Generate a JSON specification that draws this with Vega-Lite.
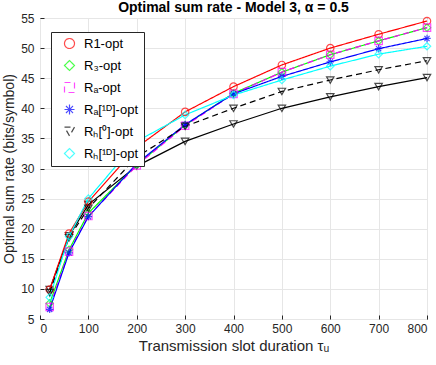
{
  "$schema": "https://vega.github.io/schema/vega-lite/v6.json",
  "width": 387,
  "height": 301,
  "autosize": {"type": "none"},
  "padding": {"left": 40, "top": 18, "right": 9, "bottom": 46},
  "background": "white",
  "config": {
    "font": "Liberation Sans",
    "view": {"stroke": "#262626", "strokeWidth": 1},
    "axis": {
      "gridColor": "#e6e6e6",
      "gridWidth": 1,
      "domain": false,
      "tickColor": "#262626",
      "tickSize": -4,
      "labelColor": "#262626",
      "labelFontSize": 12,
      "titleColor": "#262626",
      "titleFontSize": 15,
      "titleFontWeight": "normal",
      "labelFont": "Liberation Sans",
      "titleFont": "Liberation Sans"
    },
    "legend": {
      "strokeColor": "#262626",
      "fillColor": "white",
      "padding": 5,
      "labelFontSize": 13,
      "labelColor": "#000000",
      "labelFont": "Liberation Sans",
      "rowPadding": 7,
      "symbolOffset": 7,
      "labelOffset": 8,
      "symbolStrokeWidth": 1.2
    }
  },
  "title": {
    "text": "Optimal sum rate - Model 3, α = 0.5",
    "fontSize": 14,
    "fontWeight": "bold",
    "font": "Liberation Sans",
    "color": "#000000",
    "anchor": "middle",
    "offset": -3
  },
  "data": {
    "values": [
      {"s": "R1-opt", "t": 20, "r": 9.9}, {"s": "R1-opt", "t": 60, "r": 19.2}, {"s": "R1-opt", "t": 100, "r": 24.5}, {"s": "R1-opt", "t": 200, "r": 33.5}, {"s": "R1-opt", "t": 300, "r": 39.4}, {"s": "R1-opt", "t": 400, "r": 43.6}, {"s": "R1-opt", "t": 500, "r": 47.2}, {"s": "R1-opt", "t": 600, "r": 50.0}, {"s": "R1-opt", "t": 700, "r": 52.3}, {"s": "R1-opt", "t": 800, "r": 54.5},
      {"s": "R₃-opt", "t": 20, "r": 7.6}, {"s": "R₃-opt", "t": 60, "r": 16.5}, {"s": "R₃-opt", "t": 100, "r": 22.6}, {"s": "R₃-opt", "t": 200, "r": 30.6}, {"s": "R₃-opt", "t": 300, "r": 37.2}, {"s": "R₃-opt", "t": 400, "r": 42.5}, {"s": "R₃-opt", "t": 500, "r": 46.0}, {"s": "R₃-opt", "t": 600, "r": 48.9}, {"s": "R₃-opt", "t": 700, "r": 51.2}, {"s": "R₃-opt", "t": 800, "r": 53.4},
      {"s": "Rₐ-opt", "t": 20, "r": 7.0}, {"s": "Rₐ-opt", "t": 60, "r": 16.2}, {"s": "Rₐ-opt", "t": 100, "r": 22.1}, {"s": "Rₐ-opt", "t": 200, "r": 30.5}, {"s": "Rₐ-opt", "t": 300, "r": 37.1}, {"s": "Rₐ-opt", "t": 400, "r": 42.4}, {"s": "Rₐ-opt", "t": 500, "r": 46.0}, {"s": "Rₐ-opt", "t": 600, "r": 48.9}, {"s": "Rₐ-opt", "t": 700, "r": 51.2}, {"s": "Rₐ-opt", "t": 800, "r": 53.4},
      {"s": "Rₐ[¹ᴰ]-opt", "t": 20, "r": 6.6}, {"s": "Rₐ[¹ᴰ]-opt", "t": 60, "r": 16.0}, {"s": "Rₐ[¹ᴰ]-opt", "t": 100, "r": 22.0}, {"s": "Rₐ[¹ᴰ]-opt", "t": 200, "r": 30.8}, {"s": "Rₐ[¹ᴰ]-opt", "t": 300, "r": 37.3}, {"s": "Rₐ[¹ᴰ]-opt", "t": 400, "r": 42.4}, {"s": "Rₐ[¹ᴰ]-opt", "t": 500, "r": 45.3}, {"s": "Rₐ[¹ᴰ]-opt", "t": 600, "r": 47.7}, {"s": "Rₐ[¹ᴰ]-opt", "t": 700, "r": 49.9}, {"s": "Rₐ[¹ᴰ]-opt", "t": 800, "r": 51.6},
      {"s": "Rₕ[⁰]-opt", "t": 20, "r": 9.4}, {"s": "Rₕ[⁰]-opt", "t": 60, "r": 18.5}, {"s": "Rₕ[⁰]-opt", "t": 100, "r": 23.4}, {"s": "Rₕ[⁰]-opt", "t": 200, "r": 31.9}, {"s": "Rₕ[⁰]-opt", "t": 300, "r": 37.0}, {"s": "Rₕ[⁰]-opt", "t": 400, "r": 40.0}, {"s": "Rₕ[⁰]-opt", "t": 500, "r": 42.8}, {"s": "Rₕ[⁰]-opt", "t": 600, "r": 44.7}, {"s": "Rₕ[⁰]-opt", "t": 700, "r": 46.4}, {"s": "Rₕ[⁰]-opt", "t": 800, "r": 47.9},
      {"s": "Rₕ[¹ᴰ]-opt", "t": 20, "r": 8.6}, {"s": "Rₕ[¹ᴰ]-opt", "t": 60, "r": 18.7}, {"s": "Rₕ[¹ᴰ]-opt", "t": 100, "r": 25.0}, {"s": "Rₕ[¹ᴰ]-opt", "t": 200, "r": 34.5}, {"s": "Rₕ[¹ᴰ]-opt", "t": 300, "r": 38.9}, {"s": "Rₕ[¹ᴰ]-opt", "t": 400, "r": 42.2}, {"s": "Rₕ[¹ᴰ]-opt", "t": 500, "r": 44.7}, {"s": "Rₕ[¹ᴰ]-opt", "t": 600, "r": 47.0}, {"s": "Rₕ[¹ᴰ]-opt", "t": 700, "r": 49.0}, {"s": "Rₕ[¹ᴰ]-opt", "t": 800, "r": 50.3},
      {"s": "other", "t": 20, "r": 9.9}, {"s": "other", "t": 60, "r": 18.8}, {"s": "other", "t": 100, "r": 24.0}, {"s": "other", "t": 200, "r": 30.4}, {"s": "other", "t": 300, "r": 34.5}, {"s": "other", "t": 400, "r": 37.4}, {"s": "other", "t": 500, "r": 40.0}, {"s": "other", "t": 600, "r": 41.9}, {"s": "other", "t": 700, "r": 43.6}, {"s": "other", "t": 800, "r": 45.1}
    ]
  },
  "encoding": {
    "x": {
      "field": "t", "type": "quantitative",
      "scale": {"domain": [0, 800], "nice": false, "zero": false},
      "axis": {"values": [0, 100, 200, 300, 400, 500, 600, 700, 800], "title": "Transmission slot duration τᵤ", "titlePadding": 4, "labelPadding": 8}
    },
    "y": {
      "field": "r", "type": "quantitative",
      "scale": {"domain": [5, 55], "nice": false, "zero": false},
      "axis": {"values": [5, 10, 15, 20, 25, 30, 35, 40, 45, 50, 55], "title": "Optimal sum rate (bits/symbol)", "titleFontSize": 14, "titlePadding": 4, "labelPadding": 10}
    }
  },
  "layer": [
    {
      "transform": [{"filter": "datum.s === 'other'"}],
      "mark": {"type": "line", "color": "#000000", "strokeWidth": 1.2},
      "encoding": {}
    },
    {
      "transform": [{"filter": "datum.s === 'other'"}],
      "mark": {"type": "point", "color": "#000000", "shape": "triangle-down", "filled": false, "size": 55, "strokeWidth": 1.2},
      "encoding": {}
    },
    {
      "transform": [{"filter": "datum.s !== 'other'"}],
      "mark": {"type": "line", "strokeWidth": 1.2},
      "encoding": {
        "color": {"field": "s", "type": "nominal",
          "scale": {"domain": ["R1-opt", "R₃-opt", "Rₐ-opt", "Rₐ[¹ᴰ]-opt", "Rₕ[⁰]-opt", "Rₕ[¹ᴰ]-opt"],
                    "range": ["#ff0000", "#00ff00", "#ff00ff", "#0000ff", "#000000", "#00ffff"]}},
        "strokeDash": {"field": "s", "type": "nominal", "legend": null,
          "scale": {"domain": ["R1-opt", "R₃-opt", "Rₐ-opt", "Rₐ[¹ᴰ]-opt", "Rₕ[⁰]-opt", "Rₕ[¹ᴰ]-opt"],
                    "range": [[1, 0], [1, 0], [6, 4], [1, 0], [6, 4], [1, 0]]}}
      }
    },
    {
      "transform": [{"filter": "datum.s !== 'other'"}],
      "mark": {"type": "point", "filled": false, "size": 55, "strokeWidth": 1.2},
      "encoding": {
        "color": {"field": "s", "type": "nominal",
          "scale": {"domain": ["R1-opt", "R₃-opt", "Rₐ-opt", "Rₐ[¹ᴰ]-opt", "Rₕ[⁰]-opt", "Rₕ[¹ᴰ]-opt"],
                    "range": ["#ff0000", "#00ff00", "#ff00ff", "#0000ff", "#000000", "#00ffff"]},
          "legend": {"title": null, "orient": "none", "legendX": 11, "legendY": 14}},
        "shape": {"field": "s", "type": "nominal",
          "scale": {"domain": ["R1-opt", "R₃-opt", "Rₐ-opt", "Rₐ[¹ᴰ]-opt", "Rₕ[⁰]-opt", "Rₕ[¹ᴰ]-opt"],
                    "range": ["circle", "diamond", "square", "M-1,0L1,0M0,-1L0,1M-0.7,-0.7L0.7,0.7M-0.7,0.7L0.7,-0.7", "triangle-down", "diamond"]},
          "legend": {"title": null, "orient": "none", "legendX": 11, "legendY": 14}}
      }
    }
  ]
}
